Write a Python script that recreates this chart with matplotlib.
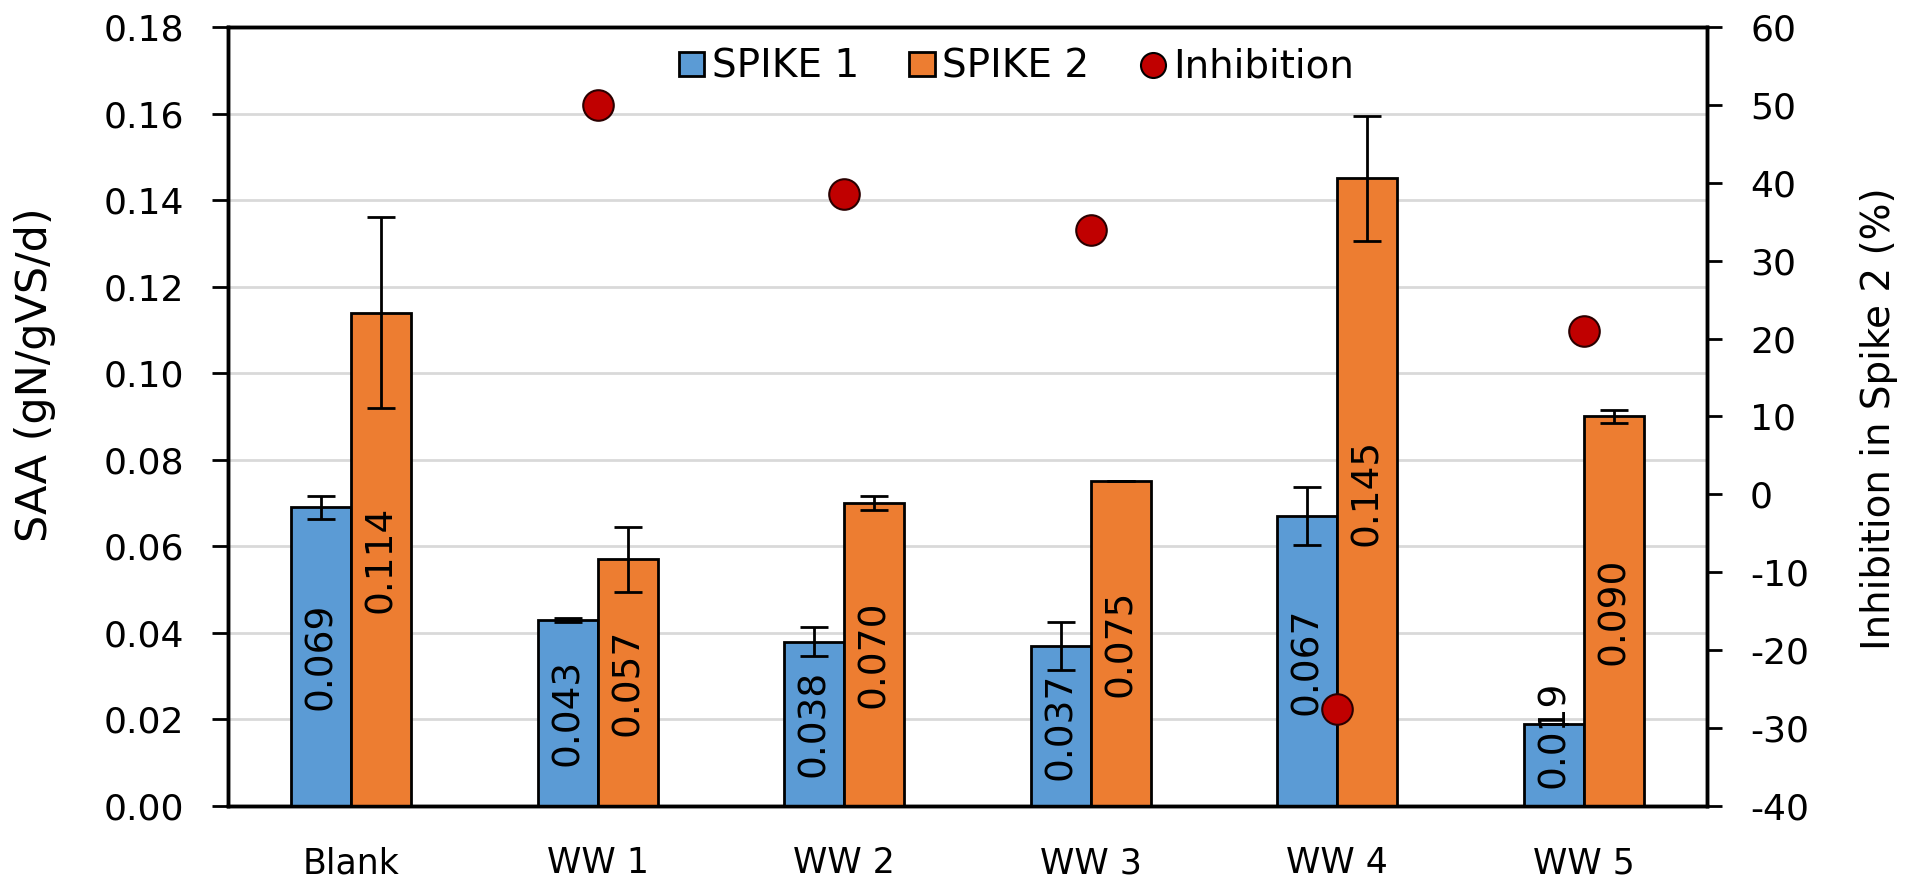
import numpy as np
import matplotlib
matplotlib.use("Agg")
import matplotlib.pyplot as plt
from matplotlib.patches import Patch
from matplotlib.lines import Line2D

samples = ["Blank", "WW 1", "WW 2", "WW 3", "WW 4", "WW 5"]
spike1 = [0.069, 0.043, 0.038, 0.037, 0.067, 0.019]
spike1_err = [0.0027, 0.0005, 0.0033, 0.0055, 0.0066, 0.0]
spike2 = [0.114, 0.057, 0.070, 0.075, 0.145, 0.090]
spike2_err = [0.022, 0.0075, 0.0017, 0.0, 0.0144, 0.0016]
inhibition = [np.nan, 50.0, 38.5, 34.0, -27.5, 21.0]

blue = "#5B9BD5"
orange = "#ED7D31"
red = "#C00000"

plt.rcParams["font.family"] = ["DejaVu Sans"]

fig = plt.figure(figsize=(19.21, 8.82), dpi=100)
ax = fig.add_axes([0.1187, 0.0862, 0.7699, 0.8832])
ax2 = ax.twinx()

x = np.arange(len(samples))
w = 0.243
err_kw = dict(ecolor="black", elinewidth=2, capsize=10, capthick=2)
ax.bar(x - w / 2, spike1, w, yerr=spike1_err, color=blue,
       edgecolor="black", linewidth=2, error_kw=err_kw, zorder=3)
ax.bar(x + w / 2, spike2, w, yerr=spike2_err, color=orange,
       edgecolor="black", linewidth=2, error_kw=err_kw, zorder=3)

# value labels, rotated inside the bars
for xs, vals in [(x - w / 2, spike1), (x + w / 2, spike2)]:
    for xi, v in zip(xs, vals):
        ax.text(xi, max(v / 2, 0.0166), f"{v:.3f}", rotation=90,
                ha="center", va="center", fontsize=27, zorder=4)

ax.set_ylim(0, 0.18)
yt = np.arange(0, 0.181, 0.02)
ax.set_yticks(yt)
ax.set_yticklabels([f"{t:.2f}" for t in yt])
ax.set_xlim(-0.5, 5.5)
ax.set_xticks(x)
ax.set_xticklabels(samples, fontsize=25)
ax.tick_params(axis="x", length=0, pad=29)
ax.tick_params(axis="y", labelsize=26, length=11.5, width=2, direction="out", pad=20)
ax.grid(axis="y", color="#d9d9d9", linewidth=2, zorder=0)
ax.set_axisbelow(True)

ax2.plot(x, inhibition, "o", markersize=22, markerfacecolor=red,
         markeredgecolor="#2a0000", markeredgewidth=1.5, zorder=5)
ax2.set_ylim(-40, 60)
rt = np.arange(-40, 61, 10)
ax2.set_yticks(rt)
ax2.set_yticklabels([str(t) for t in rt])  # plain hyphen for negatives
ax2.tick_params(axis="y", labelsize=26, length=11, width=2, direction="out", pad=20)

fig.text(35 / 1921, 0.5748, "SAA (gN/gVS/d)", rotation=90, fontsize=31,
         ha="center", va="center")
fig.text(1879 / 1921, 0.525, "Inhibition in Spike 2 (%)", rotation=90,
         fontsize=28, ha="center", va="center")

for a in (ax, ax2):
    for s in a.spines.values():
        s.set_linewidth(2.5)
        s.set_color("black")

handles = [
    Patch(facecolor=blue, edgecolor="black", linewidth=2),
    Patch(facecolor=orange, edgecolor="black", linewidth=2),
    Line2D([], [], marker="o", linestyle="none", markersize=18,
           markerfacecolor=red, markeredgecolor="black", markeredgewidth=1.5),
]
ax2.legend(handles, ["SPIKE 1", "SPIKE 2", "Inhibition"], loc="center",
           bbox_to_anchor=(0.533, 0.949), ncol=3, frameon=False,
           fontsize=28, handlelength=0.65, handleheight=0.6,
           handletextpad=0.2, columnspacing=1.3)

fig.savefig("out.png", dpi=100)
